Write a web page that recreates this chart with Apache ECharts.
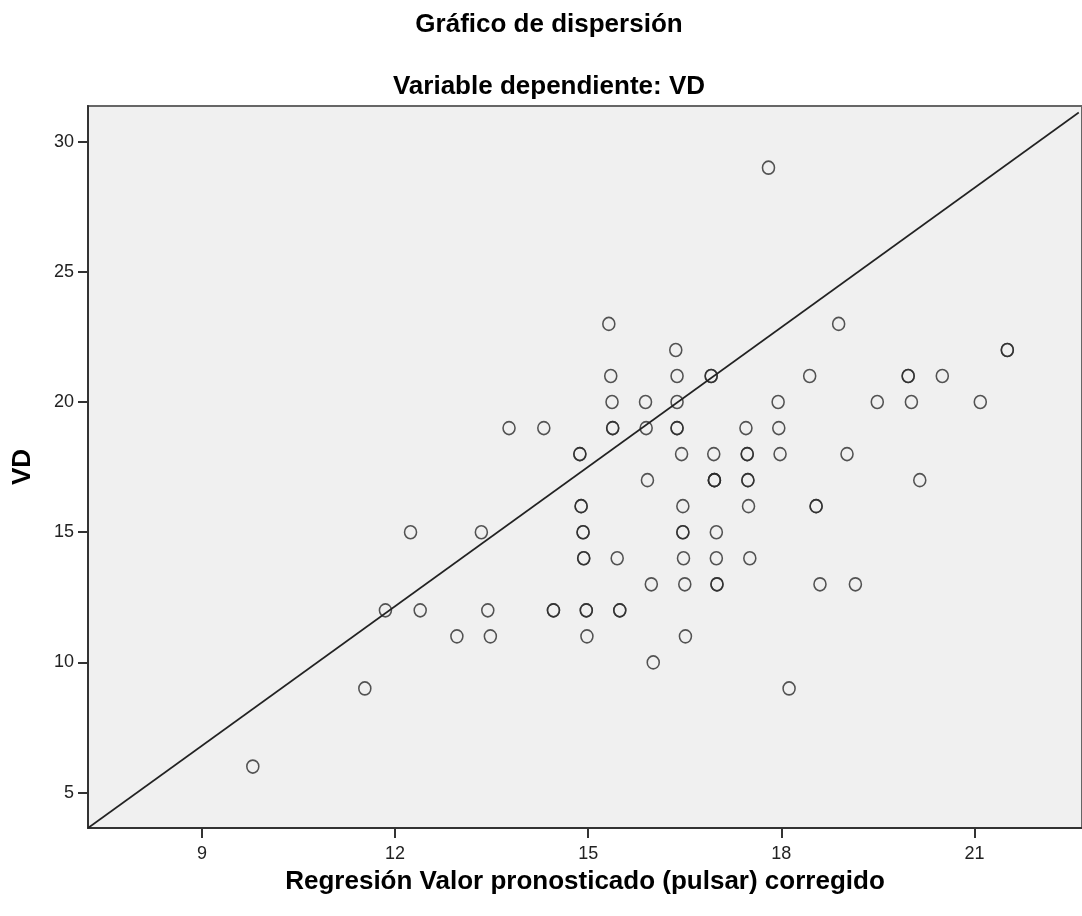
<!DOCTYPE html>
<html lang="es">
<head>
    <meta charset="UTF-8" />
    <title>Gráfico de dispersión</title>
    <script src="https://cdn.jsdelivr.net/npm/echarts@6.0.0/dist/echarts.min.js"></script>
    <style>
        body { margin: 0; background: #fff; }
    </style>
</head>
<body>
    <div id="main" style="width: 1082px; height: 916px"></div>
    <script>
        // valor pronosticado corregido (x) y VD (y)
        var predicho = [
            9.79,
            11.53, 18.12,
            16.01,
            12.96, 13.48, 14.98, 16.51,
            11.85, 12.39, 13.44, 14.46, 14.46, 14.97, 14.97, 15.49, 15.49,
            15.98, 16.50, 17.00, 17.00, 18.60, 19.15,
            14.93, 14.93, 15.45, 16.48, 16.99, 17.51,
            12.24, 13.34, 14.92, 14.92, 16.47, 16.47, 16.99,
            14.89, 14.89, 16.47, 17.49, 18.54, 18.54,
            15.92, 16.96, 16.96, 16.96, 17.48, 17.48, 20.15,
            14.87, 14.87, 16.45, 16.95, 17.47, 17.47, 17.98, 19.02,
            13.77, 14.31, 15.38, 15.38, 15.90, 16.38, 16.38, 17.45, 17.96,
            15.37, 15.89, 16.38, 17.95, 19.49, 20.02, 21.09,
            15.35, 16.38, 16.91, 16.91, 18.44, 19.97, 19.97, 20.50,
            16.36, 21.51, 21.51,
            15.32, 18.89,
            17.80
        ]
        var vd = [
            6,
            9, 9,
            10,
            11, 11, 11, 11,
            12, 12, 12, 12, 12, 12, 12, 12, 12,
            13, 13, 13, 13, 13, 13,
            14, 14, 14, 14, 14, 14,
            15, 15, 15, 15, 15, 15, 15,
            16, 16, 16, 16, 16, 16,
            17, 17, 17, 17, 17, 17, 17,
            18, 18, 18, 18, 18, 18, 18, 18,
            19, 19, 19, 19, 19, 19, 19, 19, 19,
            20, 20, 20, 20, 20, 20, 20,
            21, 21, 21, 21, 21, 21, 21, 21,
            22, 22, 22,
            23, 23,
            29
        ]

        // línea de ajuste (extremos)
        var ajusteX = [7.23, 22.62]
        var ajusteY = [3.64, 31.12]

        var ticksX = [9, 12, 15, 18, 21]
        var ticksY = [5, 10, 15, 20, 25, 30]

        var puntos = []
        for (var i = 0; i < predicho.length; i++) {
            puntos.push([predicho[i], vd[i]])
        }
        var linea = []
        for (var j = 0; j < ajusteX.length; j++) {
            linea.push([ajusteX[j], ajusteY[j]])
        }

        var fuente = '"Liberation Sans", Arial, sans-serif'
        var mCharts = echarts.init(document.getElementById('main'))
        var option = {
            animation: false,
            title: [
                {
                    text: 'Gráfico de dispersión',
                    left: 544,
                    textAlign: 'center',
                    top: 7,
                    textStyle: { fontFamily: fuente, fontSize: 26, fontWeight: 'bold', color: '#000' }
                },
                {
                    text: 'Variable dependiente: VD',
                    left: 544,
                    textAlign: 'center',
                    top: 69,
                    textStyle: { fontFamily: fuente, fontSize: 26, fontWeight: 'bold', color: '#000' }
                }
            ],
            grid: {
                show: true,
                left: 88,
                top: 106,
                right: -3,
                bottom: 88,
                backgroundColor: '#f0f0f0',
                borderColor: '#666',
                borderWidth: 2
            },
            xAxis: {
                type: 'value',
                min: 7.23,
                max: 22.67,
                name: 'Regresión Valor pronosticado (pulsar) corregido',
                nameLocation: 'middle',
                nameGap: 41,
                nameTextStyle: { fontFamily: fuente, fontSize: 26, fontWeight: 'bold', color: '#000' },
                axisLine: { onZero: false, lineStyle: { color: '#333', width: 2 } },
                axisTick: { customValues: ticksX, length: 10, lineStyle: { color: '#333', width: 2 } },
                axisLabel: { customValues: ticksX, margin: 17, fontFamily: fuente, fontSize: 18, color: '#222' },
                splitLine: { show: false }
            },
            yAxis: {
                type: 'value',
                min: 3.64,
                max: 31.37,
                name: 'VD',
                nameLocation: 'middle',
                nameRotate: 90,
                nameGap: 52,
                nameTextStyle: { fontFamily: fuente, fontSize: 26, fontWeight: 'bold', color: '#000' },
                axisLine: { show: true, onZero: false, lineStyle: { color: '#333', width: 2 } },
                axisTick: { show: true, customValues: ticksY, length: 10, lineStyle: { color: '#333', width: 2 } },
                axisLabel: { customValues: ticksY, margin: 14, fontFamily: fuente, fontSize: 18, color: '#222' },
                splitLine: { show: false }
            },
            series: [
                {
                    type: 'line',
                    data: linea,
                    symbol: 'none',
                    silent: true,
                    lineStyle: { color: '#222', width: 1.6 }
                },
                {
                    type: 'scatter',
                    data: puntos,
                    symbol: 'circle',
                    symbolSize: [12, 13],
                    itemStyle: {
                        color: 'transparent',
                        borderColor: '#2a2a2a',
                        borderWidth: 1.6
                    }
                }
            ]
        }
        mCharts.setOption(option)
    </script>
</body>
</html>
